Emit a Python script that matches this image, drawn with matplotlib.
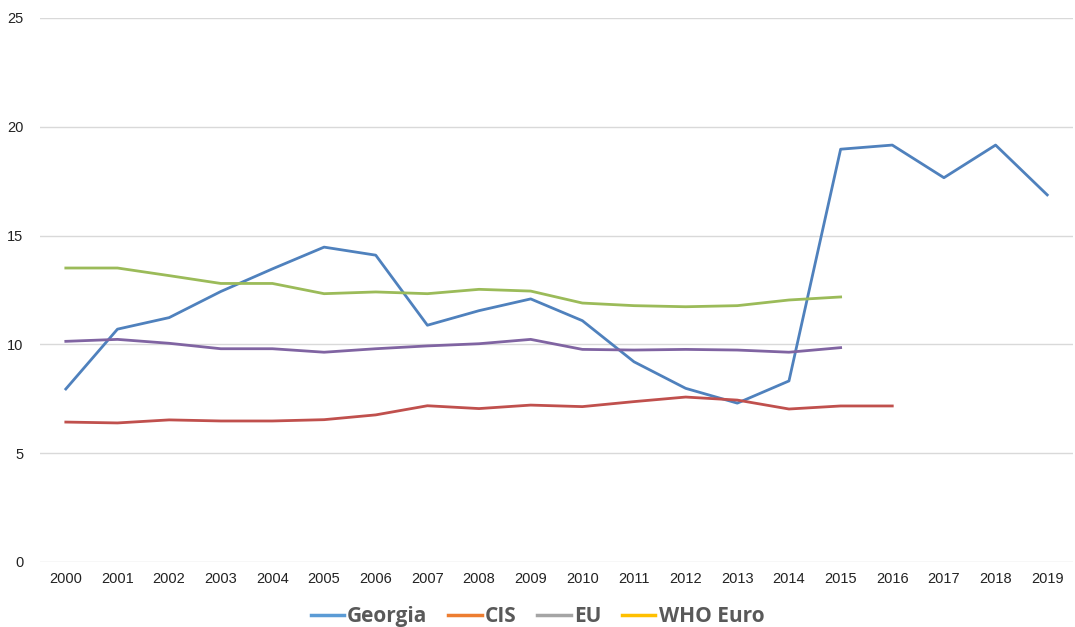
import numpy as np
import matplotlib.pyplot as plt
from matplotlib.lines import Line2D

years = [str(y) for y in range(2000, 2020)]

georgia = [7.95, 10.7, 11.23, 12.43, 13.47, 14.47, 14.1, 10.88, 11.55, 12.09,
           11.09, 9.2, 7.98, 7.3, 8.32, 18.97, 19.16, 17.66, 19.16, 16.87]
cis = [6.43, 6.39, 6.53, 6.48, 6.48, 6.54, 6.76, 7.18, 7.05, 7.21,
       7.14, 7.37, 7.58, 7.44, 7.03, 7.17, 7.17]
green_series = [13.51, 13.51, 13.16, 12.8, 12.8, 12.33, 12.41, 12.33, 12.53, 12.45,
                11.9, 11.78, 11.73, 11.78, 12.04, 12.18]
purple_series = [10.14, 10.23, 10.05, 9.8, 9.8, 9.64, 9.8, 9.93, 10.03, 10.23,
                 9.77, 9.74, 9.77, 9.74, 9.64, 9.85]

# legend in the source uses a different palette from the drawn lines
legend_names = ['Georgia', 'CIS', 'EU', 'WHO Euro']
legend_colors = ['#5B9BD5', '#ED7D31', '#A5A5A5', '#FFC000']

fig = plt.figure(figsize=(10.75, 6.27), dpi=100)
ax = fig.add_axes([0.0372, 0.1037, 0.9610, 0.8676])

x = np.arange(len(years))
lw = 2.0
ax.plot(x[:len(georgia)], georgia, color='#4F81BD', lw=lw, zorder=3)
ax.plot(x[:len(cis)], cis, color='#C0504D', lw=lw, zorder=3)
ax.plot(x[:len(green_series)], green_series, color='#9BBB59', lw=lw, zorder=3)
ax.plot(x[:len(purple_series)], purple_series, color='#8064A2', lw=lw, zorder=3)

ax.set_xlim(-0.5, len(years) - 0.5)
ax.set_ylim(0, 25)
ax.set_yticks(range(0, 26, 5))
ax.set_xticks(x)
ax.set_xticklabels(years)
ax.grid(axis='y', color='#D9D9D9', lw=1)
ax.set_axisbelow(True)
for s in ax.spines.values():
    s.set_visible(False)
ax.tick_params(length=0, labelsize=10.5, colors='#222222', labelfontfamily='Liberation Sans')
ax.tick_params(axis='y', pad=12)
ax.tick_params(axis='x', pad=7)

handles = [Line2D([0], [0], color=c, lw=2.5) for c in legend_colors]
fig.legend(handles, legend_names, loc='center', bbox_to_anchor=(0.5, 0.017),
           ncol=4, frameon=False, handlelength=1.6, handletextpad=0.15, columnspacing=1.0,
           borderpad=0, prop={'family': 'Open Sans', 'weight': 'bold', 'size': 15},
           labelcolor='#595959')

fig.savefig('out.png', dpi=100)
